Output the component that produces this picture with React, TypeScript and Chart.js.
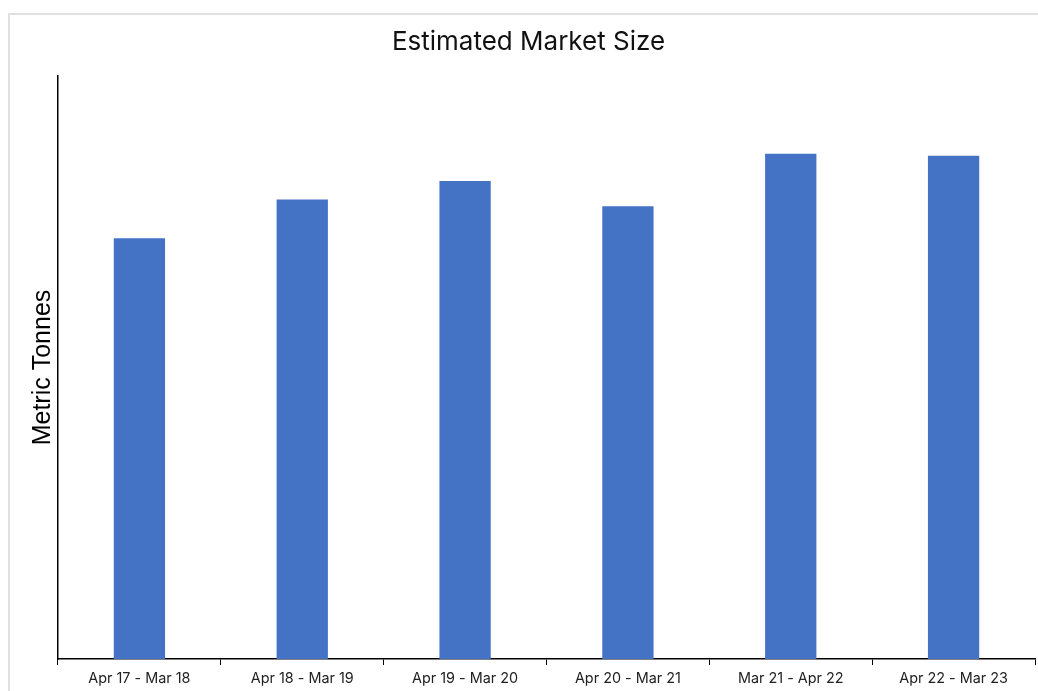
import React, { useEffect, useRef } from "react";
import { Chart, registerables } from "chart.js";

Chart.register(...registerables);

const categories: string[] = [
  "Apr 17 - Mar 18",
  "Apr 18 - Mar 19",
  "Apr 19 - Mar 20",
  "Apr 20 - Mar 21",
  "Mar 21 - Apr 22",
  "Apr 22 - Mar 23",
];
const marketSize: number[] = [433, 473, 492, 466, 520, 518];
const yMax = 600;

const shiftTitle = {
  id: "shiftTitle",
  afterLayout(chart: any) {
    if (chart.titleBlock) {
      chart.titleBlock.left += 12;
    }
  },
};

export default function App() {
  const ref = useRef<HTMLCanvasElement | null>(null);

  useEffect(() => {
    document.documentElement.style.overflow = "hidden";
    document.body.style.overflow = "hidden";
    const ctx = ref.current!.getContext("2d")!;
    const chart = new Chart(ctx, {
      type: "bar",
      data: {
        labels: categories,
        datasets: [
          {
            label: "Estimated Market Size",
            data: marketSize,
            backgroundColor: "#4472C4",
            borderWidth: 0,
            barPercentage: 0.315,
            categoryPercentage: 1,
          },
        ],
      },
      plugins: [shiftTitle],
      options: {
        responsive: false,
        animation: false,
        layout: { padding: { left: 0, right: 15, top: 0, bottom: 0 } },
        plugins: {
          legend: { display: false },
          tooltip: { enabled: false },
          title: {
            display: true,
            text: "Estimated Market Size",
            color: "#111",
            font: { family: "Inter", size: 26, weight: "normal" },
            padding: { top: 11.4, bottom: 18.4 },
          },
        },
        scales: {
          x: {
            grid: {
              display: true,
              drawOnChartArea: false,
              drawTicks: true,
              tickLength: 6,
              color: "#000",
              offset: true,
              lineWidth: 1,
            },
            border: { display: true, color: "#000", width: 1.5 },
            ticks: {
              color: "#222",
              font: { family: "Inter", size: 14.4 },
              padding: 5,
              maxRotation: 0,
            },
            afterFit: (scale: any) => {
              scale.height = 36;
            },
          },
          y: {
            min: 0,
            max: yMax,
            grid: { display: false, drawTicks: false },
            border: { display: true, color: "#000", width: 1.5 },
            ticks: { display: false },
            title: {
              display: true,
              text: "Metric Tonnes",
              color: "#000",
              font: { family: "Liberation Sans", size: 25 },
              padding: { top: 18, bottom: 0 },
            },
            afterFit: (scale: any) => {
              scale.width = 48;
            },
          },
        },
      },
    });
    return () => chart.destroy();
  }, []);

  return (
    <div
      style={{
        position: "absolute",
        left: 8,
        top: 13,
        width: 1040,
        height: 700,
        border: "2px solid #e0e0e0",
        background: "#fff",
      }}
    >
      <canvas ref={ref} width={1040} height={680} style={{ display: "block" }} />
    </div>
  );
}
